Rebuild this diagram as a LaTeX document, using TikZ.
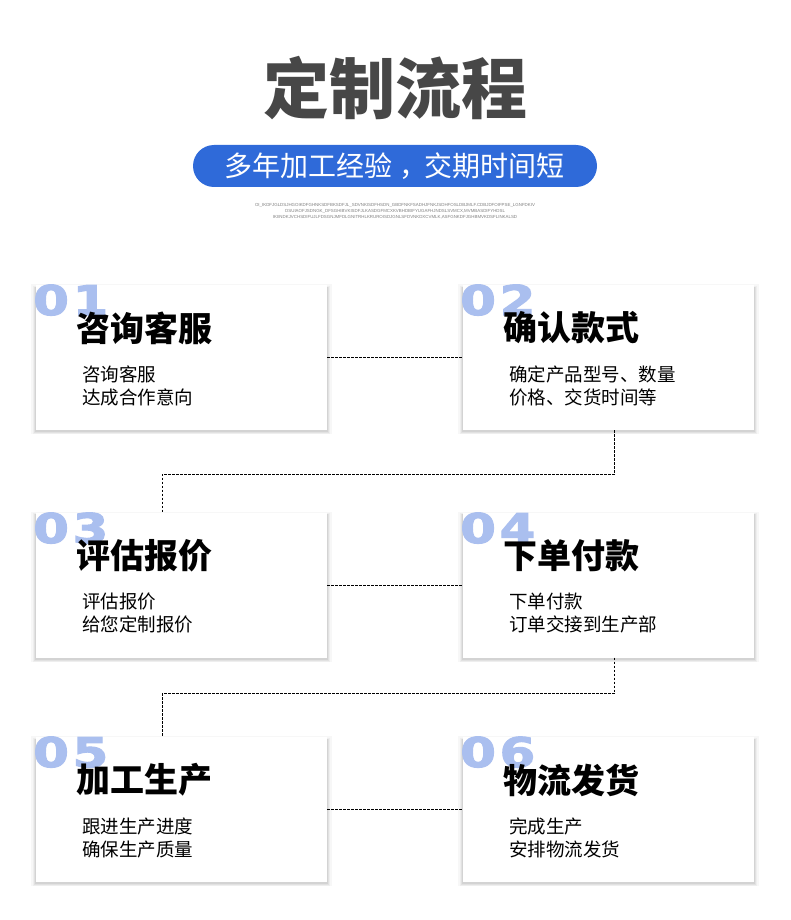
\documentclass[tikz,border=0pt]{standalone}
\usepackage{fontspec}
\usepackage{xcolor}
\newfontfamily\cjk{Noto Sans CJK SC}
\newfontfamily\numfont[BoldFeatures={FakeBold=2.5}]{DejaVu Sans}
\newfontfamily\tinyfont{Liberation Sans}
\usetikzlibrary{shadows}

\definecolor{pillblue}{HTML}{2F6AD9}
\definecolor{numblue}{HTML}{AABFEF}
\definecolor{titlegray}{HTML}{474747}

\begin{document}
\begin{tikzpicture}[
    x=1pt, y=-1pt,
    card/.style={rectangle, fill=white, minimum width=291pt, minimum height=145pt, inner sep=0pt,
      general shadow={fill=black, opacity=.03, shadow yshift=-1.5pt, shadow scale=1.035},
      general shadow={fill=black, opacity=.035, shadow yshift=-2.5pt, shadow scale=1.022},
      general shadow={fill=black, opacity=.05, shadow yshift=-2.5pt, shadow scale=1.012},
      general shadow={fill=black, opacity=.06, shadow yshift=-2pt, shadow scale=1.004}},
    num/.style={anchor=base west, inner sep=0pt, text=numblue, xscale=1.25,
      font=\numfont\bfseries\fontsize{41}{41}\selectfont},
    head/.style={anchor=west, inner sep=0pt, font=\cjk\bfseries\fontsize{34}{40}\selectfont},
    body/.style={anchor=west, inner sep=0pt, align=left, font=\cjk\fontsize{18.5}{23}\selectfont},
    link/.style={draw, dashed, line width=0.8pt, dash pattern=on 2.5pt off 1.5pt}
]

\fill[white] (0,0) rectangle (790,920);

% heading
\node[inner sep=0pt, text=titlegray, font=\cjk\bfseries\fontsize{66}{70}\selectfont] (title) at (395,88) {定制流程};
\node[rectangle, rounded corners=21pt, fill=pillblue, minimum width=404pt, minimum height=42pt, inner sep=0pt] (pill) at (395,166) {};
\node[inner sep=0pt, text=white, font=\cjk\fontsize{28}{30}\selectfont] (slogan) at (394,166) {多年加工经验\hspace{8pt}，\hspace{-4pt}交期时间短};
\node[inner sep=0pt, align=center, text=black!50, font=\tinyfont\fontsize{4.4}{6}\selectfont] (fine) at (395,211)
  {OI\_IKDFJGLDSJHGOIKDFGHNKSDFBKSDFJL\_SDVNKISDFHSDN\_GBDFNKFSADHJFNKJSDHFOSLDBJMLF.CDBJDFOIFPSE\_LGNFDKIV\\
   OSUIAOFJSDNGK\_DFSGHIBVKISDFJLKASDGFMCXKVBHDBIFYUGAFHJNDSLSVMCX,MVMBASDIFYHDSL\\
   IKIINDKJVCHSDIFUJLFDSGNJMFDLGNITRHLKRUROISDJGNLSFDVNKDXCVMLK,ASFGNKDFJGHBMVKDSFLINKALSD};

% cards
\node[card] (c1) at (181.5,357.5) {};
\node[card] (c2) at (608.5,357.5) {};
\node[card] (c3) at (181.5,585) {};
\node[card] (c4) at (608.5,585) {};
\node[card] (c5) at (181.5,809.5) {};
\node[card] (c6) at (608.5,809.5) {};

% connectors
\draw[link] (c1.east) -- (c2.west);
\draw[link] ([xshift=6pt]c2.south) -- ++(0,44) -| ([xshift=-19.5pt]c3.north);
\draw[link] (c3.east) -- (c4.west);
\draw[link] ([xshift=6pt]c4.south) -- ++(0,36) -| ([xshift=-19.5pt]c5.north);
\draw[link] (c5.east) -- (c6.west);

% step 1
\node[num] (n1) at (33,315) {0\hspace{3pt}1};
\node[head] (h1) at (76,328) {咨询客服};
\node[body] (b1) at (82,385.5) {咨询客服\\达成合作意向};

% step 2
\node[num] (n2) at (460,315) {0\hspace{3pt}2};
\node[head] (h2) at (503,328) {确认款式};
\node[body] (b2) at (509,385.5) {确定产品型号、数量\\价格、交货时间等};

% step 3
\node[num] (n3) at (33,543) {0\hspace{3pt}3};
\node[head] (h3) at (76,556) {评估报价};
\node[body] (b3) at (82,613) {评估报价\\给您定制报价};

% step 4
\node[num] (n4) at (460,543) {0\hspace{3pt}4};
\node[head] (h4) at (503,556) {下单付款};
\node[body] (b4) at (509,613) {下单付款\\订单交接到生产部};

% step 5
\node[num] (n5) at (33,767) {0\hspace{3pt}5};
\node[head] (h5) at (76,780) {加工生产};
\node[body] (b5) at (82,837.5) {跟进生产进度\\确保生产质量};

% step 6
\node[num] (n6) at (460,767) {0\hspace{3pt}6};
\node[head] (h6) at (503,780) {物流发货};
\node[body] (b6) at (509,837.5) {完成生产\\安排物流发货};

\end{tikzpicture}
\end{document}
